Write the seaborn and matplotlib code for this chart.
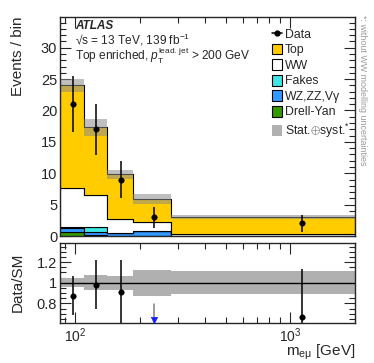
import numpy as np
import pandas as pd
import matplotlib
matplotlib.use("Agg")
import matplotlib.pyplot as plt
import seaborn as sns
from matplotlib.patches import Patch
from matplotlib.lines import Line2D
from matplotlib.ticker import MultipleLocator, FixedLocator, FuncFormatter, NullFormatter, LogLocator

# ---------------- data ----------------
bin_edges = [85, 110, 140, 185, 280, 2000]
processes = ["Top", "WW", "Fakes", "WZ,ZZ,Vγ", "Drell-Yan"]
top = [16.4, 10.8, 7.1, 3.6, 2.7]
ww = [6.2, 5.1, 2.3, 1.55, 0.25]
fakes = [0.1, 0.7, 0.05, 0.0, 0.0]
wz = [0.6, 0.6, 0.4, 0.75, 0.05]
dy = [0.7, 0.1, 0.0, 0.0, 0.0]
data = [21, 17, 9, 3, 2]
data_err_up = [4.5, 4.1, 3.0, 1.7, 1.4]
data_err_dn = [4.5, 4.1, 3.0, 1.7, 1.3]
rel_unc = [0.045, 0.075, 0.07, 0.125, 0.11]

colors = {"Top": "#ffcc00", "WW": "#ffffff", "Fakes": "#40e6e6",
          "WZ,ZZ,Vγ": "#3399ff", "Drell-Yan": "#339900"}
band_color = "#b0b0b0"

# ---------------- style ----------------
sns.set_style("ticks")
plt.rcParams["font.family"] = ["Liberation Sans", "DejaVu Sans"]
plt.rcParams["mathtext.fontset"] = "custom"
plt.rcParams["mathtext.rm"] = "Liberation Sans"
plt.rcParams["mathtext.it"] = "Liberation Sans:italic"
plt.rcParams["mathtext.bf"] = "Liberation Sans:bold"

edges = np.array(bin_edges, dtype=float)
centers = 0.5 * (edges[:-1] + edges[1:])
comp = {"Top": top, "WW": ww, "Fakes": fakes, "WZ,ZZ,Vγ": wz, "Drell-Yan": dy}
total = np.sum([np.array(v) for v in comp.values()], axis=0)
rel = np.array(rel_unc)
d = np.array(data, dtype=float)
eu = np.array(data_err_up)
ed = np.array(data_err_dn)

rows = []
for p in processes:
    for c, v in zip(centers, comp[p]):
        rows.append({"x": float(c), "w": v, "proc": p})
df = pd.DataFrame(rows)

W, H = 374, 363
fig = plt.figure(figsize=(W / 100, H / 100), dpi=100)
L, R = 60, 355
ax = fig.add_axes([L / W, 1 - 236 / H, (R - L) / W, (236 - 17) / H])
axr = fig.add_axes([L / W, 1 - 322.5 / H, (R - L) / W, (322.5 - 243) / H])

# stacked histogram
sns.histplot(data=df, x="x", weights="w", hue="proc", hue_order=processes,
             palette=colors, bins=list(bin_edges), multiple="stack", element="step",
             fill=True, alpha=1, edgecolor="black", linewidth=0.8,
             legend=False, ax=ax)

# uncertainty band
xs = edges
lo = np.append(total * (1 - rel), total[-1] * (1 - rel[-1]))
hi = np.append(total * (1 + rel), total[-1] * (1 + rel[-1]))
ax.fill_between(xs, lo, hi, step="post", color="#8c8c8c", alpha=0.55, lw=0)

# data
ax.errorbar(centers, d, yerr=[ed, eu], fmt="none", ecolor="black", elinewidth=1.1)
sns.scatterplot(x=centers, y=d, color="black", s=16, edgecolor="black", ax=ax, zorder=5)

ax.set_xscale("log")
ax.set_xlim(85, 2000)
ax.set_ylim(0, 34.9)
ax.yaxis.set_major_locator(MultipleLocator(5))
ax.yaxis.set_minor_locator(MultipleLocator(1))
ax.xaxis.set_major_locator(LogLocator(base=10, numticks=10))
ax.xaxis.set_minor_locator(LogLocator(base=10, subs=np.arange(2, 10), numticks=20))
ax.xaxis.set_major_formatter(NullFormatter())
ax.xaxis.set_minor_formatter(NullFormatter())
ax.set_xlabel("")
ax.set_ylabel("Events / bin", fontsize=11, loc="top")
ax.yaxis.set_label_coords(-0.12, 1.0)

# ratio panel
rb_lo = np.append(1 - rel, 1 - rel[-1])
rb_hi = np.append(1 + rel, 1 + rel[-1])
axr.fill_between(xs, rb_lo, rb_hi, step="post", color=band_color, lw=0)
axr.axhline(1.0, color="black", lw=1.0)
ratio = d / total
r_up = eu / total
r_dn = ed / total
ylo, yhi = 0.615, 1.385
inr = ratio >= ylo
axr.errorbar(centers[inr], ratio[inr], yerr=[r_dn[inr], r_up[inr]], fmt="none",
             ecolor="black", elinewidth=1.1)
sns.scatterplot(x=centers[inr], y=ratio[inr], color="black", s=16,
                edgecolor="black", ax=axr, zorder=5)
out = ~inr
for c, r, u in zip(centers[out], ratio[out], r_up[out]):
    axr.plot([c, c], [r + u, ylo], color="#808080", lw=1.1, zorder=4)
sns.scatterplot(x=centers[out], y=np.full(out.sum(), ylo + 0.02), marker="v",
                color="#1a1aff", s=22, edgecolor="#1a1aff", ax=axr, zorder=6)

axr.set_xscale("log")
axr.set_xlim(85, 2000)
axr.set_ylim(ylo, yhi)
axr.yaxis.set_major_locator(FixedLocator([0.8, 1.0, 1.2]))
axr.yaxis.set_minor_locator(MultipleLocator(0.05))
axr.yaxis.set_major_formatter(FuncFormatter(lambda v, p: f"{v:g}"))
axr.xaxis.set_major_locator(LogLocator(base=10, numticks=10))
axr.xaxis.set_minor_locator(LogLocator(base=10, subs=np.arange(2, 10), numticks=20))
axr.xaxis.set_minor_formatter(NullFormatter())
axr.set_ylabel("Data/SM", fontsize=11)
axr.yaxis.set_label_coords(-0.12, 0.5)
axr.set_xlabel(r"m$_{\mathrm{e\mu}}$ [GeV]", fontsize=11, ha="right")
axr.xaxis.set_label_coords(1.0, -0.255)

for a in (ax, axr):
    a.tick_params(which="both", direction="in", top=True, right=True, labelsize=10.5)
    a.tick_params(which="major", length=8, width=0.8)
    a.tick_params(which="minor", length=4, width=0.8)
    a.tick_params(axis="x", which="major", pad=2.5, labelsize=10)
    a.tick_params(axis="y", which="major", pad=2)
    for s in a.spines.values():
        s.set_linewidth(1.0)
        s.set_visible(True)

# texts
ax.text(0.051, 0.960, "ATLAS", transform=ax.transAxes, fontsize=8.5,
        fontweight="bold", fontstyle="italic", va="center", ha="left")
ax.text(0.051, 0.897, r"√s = 13 TeV, 139 fb$^{-1}$", transform=ax.transAxes,
        fontsize=8.6, va="center", ha="left")
ax.text(0.051, 0.823, r"Top enriched, $p_{\mathrm{T}}^{\mathrm{lead.\,jet}}$ > 200 GeV",
        transform=ax.transAxes, fontsize=8.6, va="center", ha="left")

handles = [Line2D([], [], color="black", marker="o", ms=3.5, lw=1.1)]
for p in processes:
    handles.append(Patch(facecolor=colors[p], edgecolor="black", lw=0.8))
handles.append(Patch(facecolor=band_color, edgecolor="none"))
labels = ["Data"] + processes + [r"Stat.$\oplus$syst.$^{*}$"]
ax.legend(handles, labels, loc="upper left", bbox_to_anchor=(0.717, 0.948),
          frameon=False, fontsize=8.8, handlelength=0.85, handleheight=0.95,
          handletextpad=0.25, labelspacing=0.25, borderpad=0, borderaxespad=0)

fig.text(0.969, 1 - 15 / H, "*: without WW modelling uncertainties", rotation=-90,
         va="top", ha="center", color="#999999", fontsize=6.4)

fig.savefig("out.png", dpi=100)
